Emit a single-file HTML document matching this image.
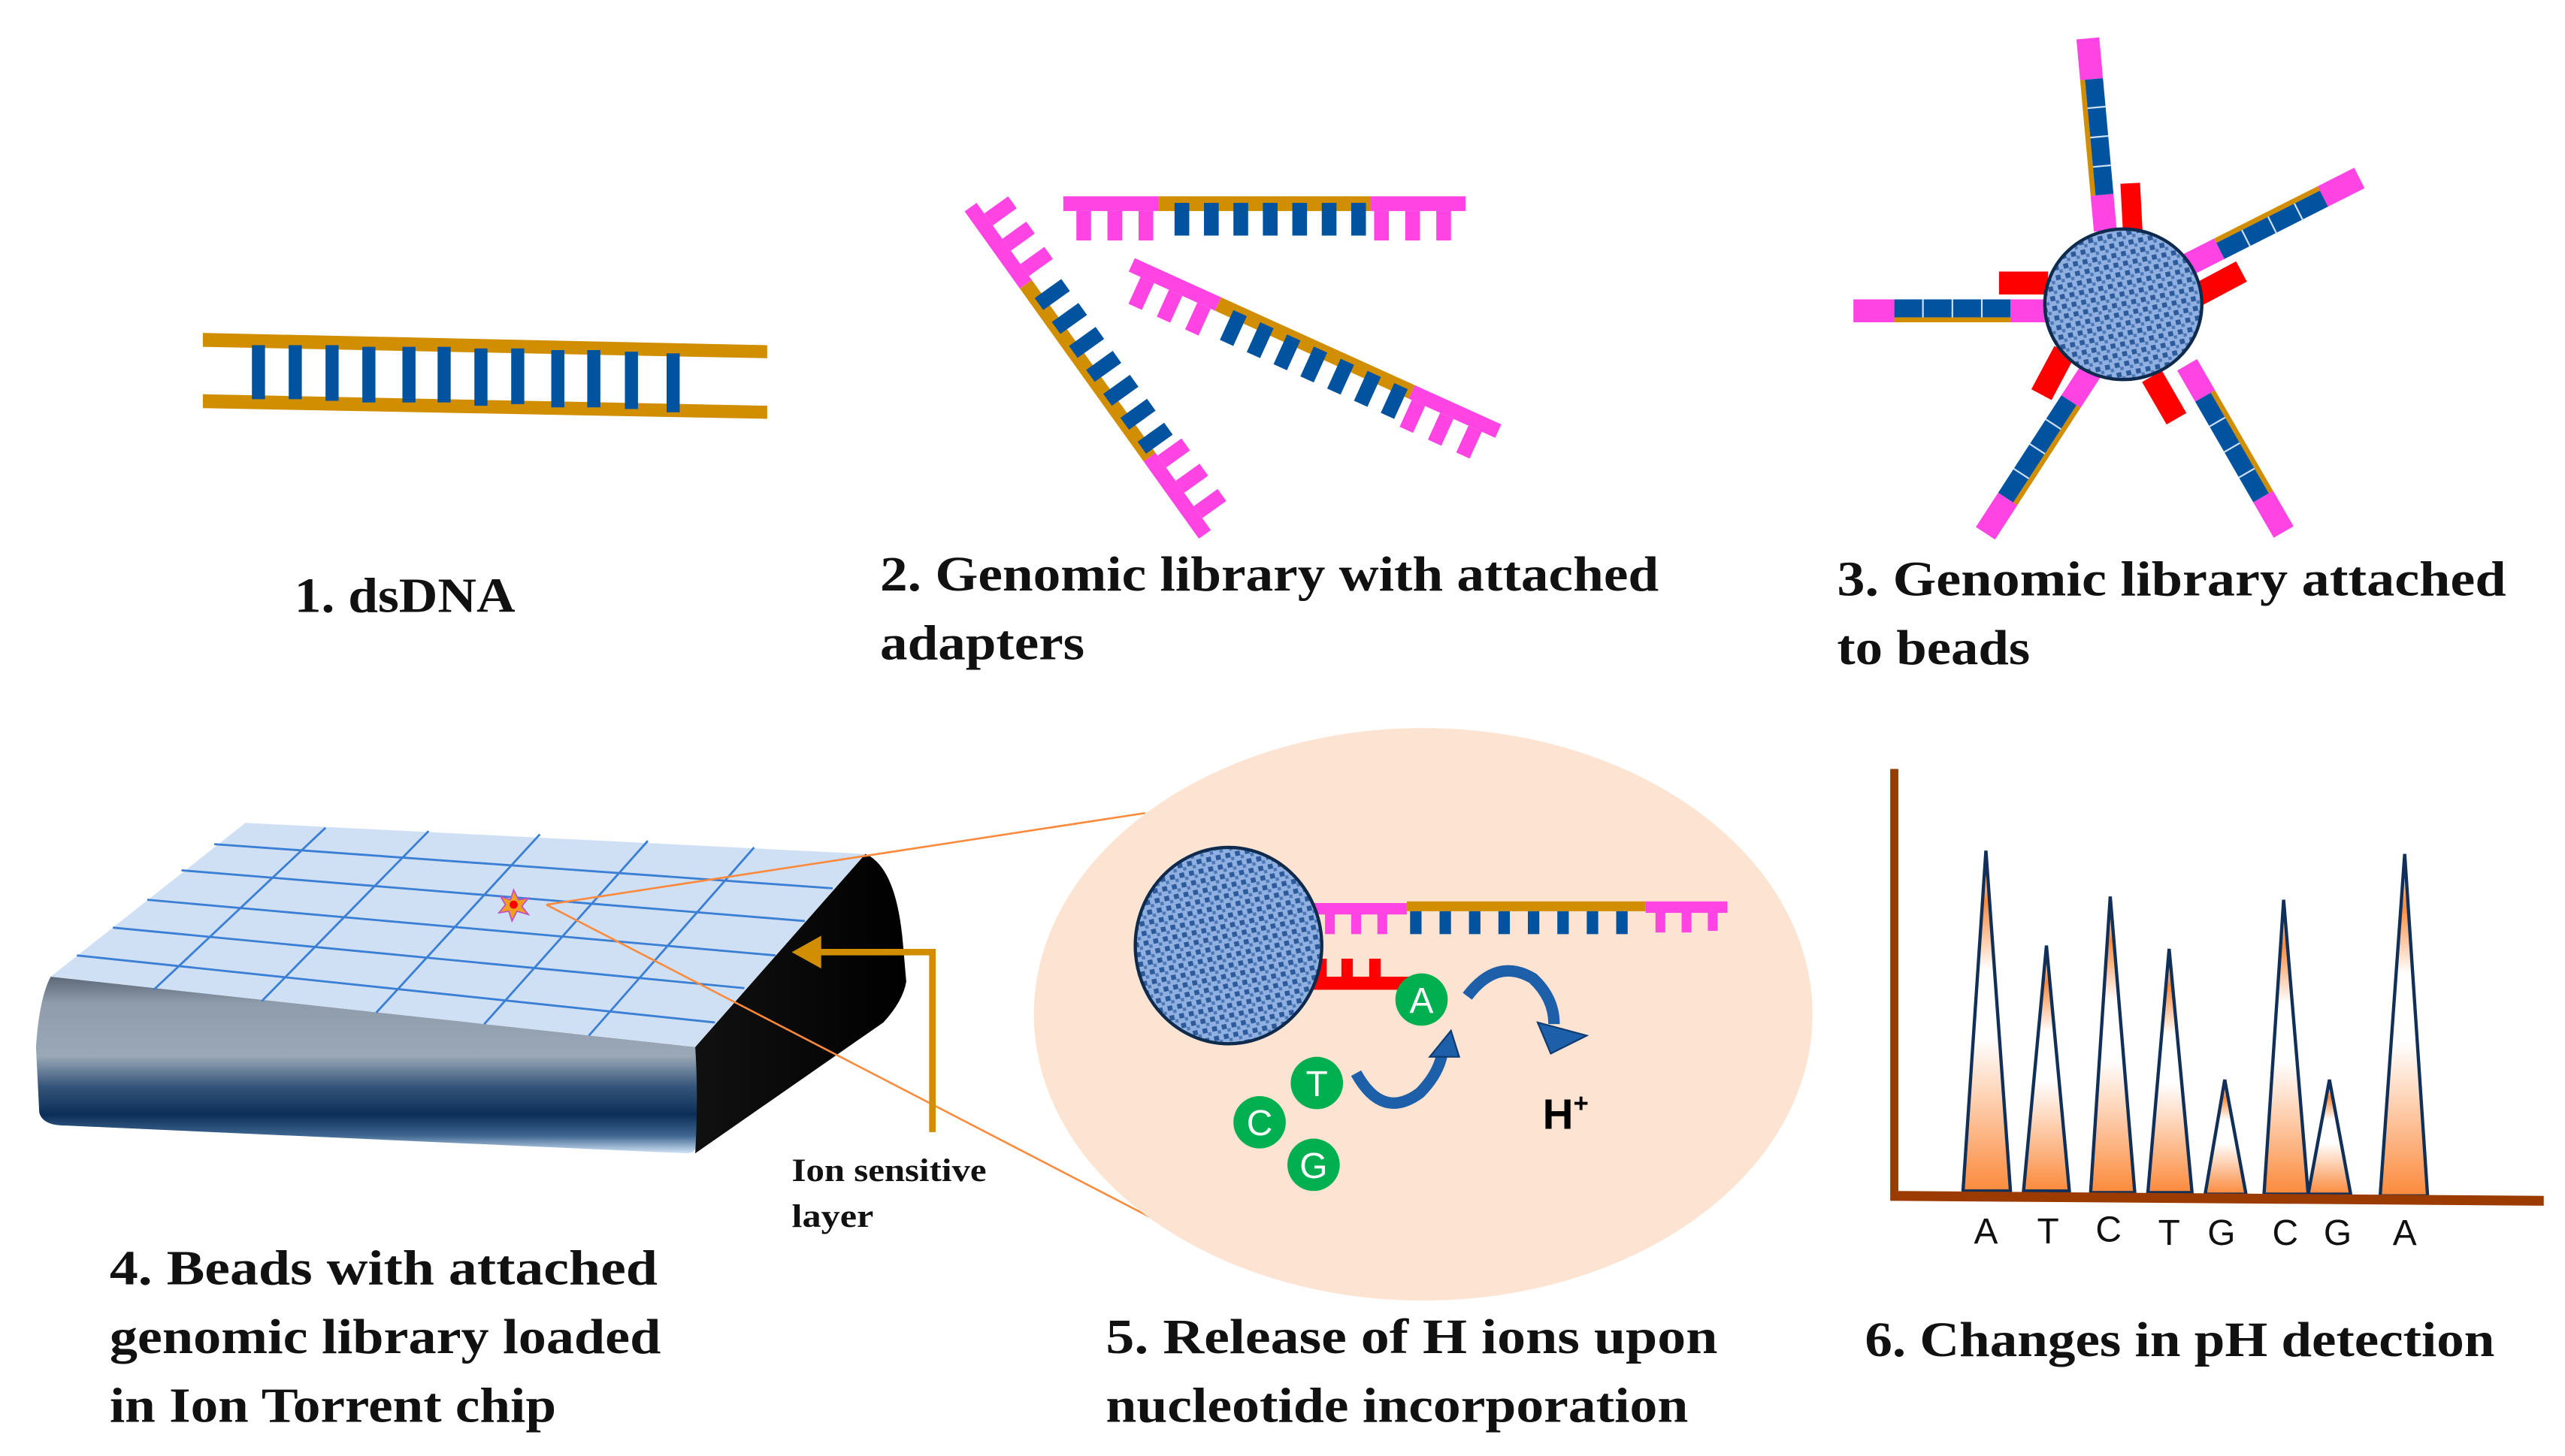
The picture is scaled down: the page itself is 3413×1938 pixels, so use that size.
<!DOCTYPE html>
<html><head><meta charset="utf-8"><style>
html,body{margin:0;padding:0;background:#fff;}
svg{display:block;}
.lb{font-family:"Liberation Serif",serif;font-weight:bold;font-size:30px;fill:#111;}
.sm{font-family:"Liberation Serif",serif;font-weight:bold;font-size:20px;fill:#111;}
.nt{font-family:"Liberation Sans",sans-serif;font-size:22px;fill:#111;}
</style></head><body>
<svg width="3413" height="1938" viewBox="0 0 1568 890" preserveAspectRatio="none" xmlns="http://www.w3.org/2000/svg">
<defs>
<pattern id="tex" width="6" height="6" patternUnits="userSpaceOnUse" patternTransform="rotate(-12)">
<rect width="6" height="6" fill="#8fb0e0"/>
<rect width="3" height="3" fill="#2d5a9a"/>
<rect x="3" y="3" width="2" height="2" fill="#4c78b8"/>
</pattern>
<linearGradient id="front" x1="0" y1="0" x2="0" y2="1">
<stop offset="0" stop-color="#5c6778"/>
<stop offset="0.15" stop-color="#8f9cab"/>
<stop offset="0.45" stop-color="#9aa8b7"/>
<stop offset="0.62" stop-color="#36557a"/>
<stop offset="0.78" stop-color="#0b2e58"/>
<stop offset="0.9" stop-color="#3e6690"/>
<stop offset="1" stop-color="#d2e4f7"/>
</linearGradient>
<linearGradient id="side" x1="0" y1="0" x2="1" y2="0">
<stop offset="0" stop-color="#111"/>
<stop offset="1" stop-color="#000"/>
</linearGradient>
<linearGradient id="pk" x1="0" y1="0" x2="0" y2="1">
<stop offset="0" stop-color="#fff"/>
<stop offset="0.15" stop-color="#fb8a3c"/>
<stop offset="0.35" stop-color="#fff"/>
<stop offset="0.55" stop-color="#fff"/>
<stop offset="1" stop-color="#fb8a3c"/>
</linearGradient>
<g id="strand">
<rect x="0" y="-9" width="58" height="9" fill="#ff44e3"/>
<rect x="58" y="-9" width="130" height="9" fill="#d08e00"/>
<rect x="188" y="-9" width="58" height="9" fill="#ff44e3"/>
<g fill="#ff44e3"><rect x="8" y="0" width="9" height="18"/><rect x="27" y="0" width="9" height="18"/><rect x="46" y="0" width="9" height="18"/>
<rect x="190" y="0" width="9" height="18"/><rect x="209" y="0" width="9" height="18"/><rect x="228" y="0" width="9" height="18"/></g>
<g fill="#02539f"><rect x="68" y="-5" width="9" height="20"/><rect x="86" y="-5" width="9" height="20"/><rect x="104" y="-5" width="9" height="20"/><rect x="122" y="-5" width="9" height="20"/><rect x="140" y="-5" width="9" height="20"/><rect x="158" y="-5" width="9" height="20"/><rect x="176" y="-5" width="9" height="20"/></g>
</g>
<g id="arm">
<rect x="0" y="-7" width="22" height="14" fill="#ff44e3"/>
<rect x="22" y="-7" width="71" height="3" fill="#d08e00"/>
<rect x="22" y="-4" width="71" height="11" fill="#02539f"/>
<g fill="#cfe0f5"><rect x="39" y="-4" width="1" height="11"/><rect x="57" y="-4" width="1" height="11"/><rect x="75" y="-4" width="1" height="11"/></g>
<rect x="93" y="-7" width="25" height="14" fill="#ff44e3"/>
</g>
</defs>

<!-- Panel 1 -->
<polygon points="124,203.5 469,211 469,219 124,212" fill="#d08e00"/>
<polygon points="124,241 469,248 469,256 124,249.5" fill="#d08e00"/>
<g fill="#02539f">
<rect x="154" y="211" width="8" height="33"/><rect x="176.5" y="211" width="8" height="33"/><rect x="199" y="211" width="8" height="34"/><rect x="221.5" y="212" width="8" height="34"/><rect x="246" y="212" width="8" height="34"/><rect x="267.5" y="212" width="8" height="34"/><rect x="290" y="213" width="8" height="35"/><rect x="312.5" y="213" width="8" height="34"/><rect x="337" y="214" width="8" height="35"/><rect x="359" y="214" width="8" height="35"/><rect x="382" y="215" width="8" height="35"/><rect x="407.5" y="216" width="8" height="36"/>
</g>
<text class="lb" x="180" y="374" textLength="135" lengthAdjust="spacingAndGlyphs">1. dsDNA</text>

<!-- Panel 2 -->
<use href="#strand" transform="translate(650,129)"/>
<use href="#strand" transform="translate(690,166) rotate(24.4)"/>
<use href="#strand" transform="translate(597,124) rotate(54.4) scale(1,-1)"/>
<text class="lb" x="538" y="361" textLength="476" lengthAdjust="spacingAndGlyphs">2. Genomic library with attached</text>
<text class="lb" x="538" y="403" textLength="125" lengthAdjust="spacingAndGlyphs">adapters</text>

<!-- Panel 3 -->
<use href="#arm" transform="translate(1287,141) rotate(-95.2)"/>
<use href="#arm" transform="translate(1337,162) rotate(-26.8)"/>
<use href="#arm" transform="translate(1251,190) rotate(180)"/>
<use href="#arm" transform="translate(1278,227) rotate(123)"/>
<use href="#arm" transform="translate(1337,223) rotate(60)"/>
<g fill="#ff0000">
<rect x="-6" y="-15" width="12" height="30" transform="translate(1303,127) rotate(-3)"/>
<rect x="-15" y="-7" width="30" height="14" transform="translate(1237,173)"/>
<rect x="-15" y="-7" width="30" height="14" transform="translate(1357,173) rotate(-28)"/>
<rect x="-15" y="-7" width="30" height="14" transform="translate(1255,228) rotate(-62)"/>
<rect x="-15" y="-7" width="30" height="14" transform="translate(1323,243) rotate(60)"/>
</g>
<ellipse cx="1298" cy="186" rx="48" ry="46" fill="url(#tex)" stroke="#0e2b4d" stroke-width="2"/>
<text class="lb" x="1123" y="364" textLength="409" lengthAdjust="spacingAndGlyphs">3. Genomic library attached</text>
<text class="lb" x="1123" y="406" textLength="118" lengthAdjust="spacingAndGlyphs">to beads</text>

<!-- Panel 4 chip -->
<path d="M31,597 Q24,610 22,640 L24,680 Q26,688 40,688 L420,705 Q428,705 427,690 L426,660 Q426,642 425,640 Z" fill="url(#front)"/>
<path d="M425,640 L529,522 Q548,530 552,577 L554,600 Q552,612 540,625 L425,705 Q427,670 425,640 Z" fill="url(#side)"/>
<polygon points="150,503 529,522 425,640 31,597" fill="#cfe0f5"/>
<g stroke="#3b7fd4" stroke-width="1.3">
<line x1="131" y1="516" x2="509" y2="543"/>
<line x1="111" y1="532" x2="492" y2="563"/>
<line x1="90" y1="550" x2="474" y2="584"/>
<line x1="69" y1="567" x2="455" y2="604"/>
<line x1="47" y1="584" x2="437" y2="625"/>
<line x1="199" y1="506" x2="94" y2="605"/>
<line x1="262" y1="508" x2="160" y2="612"/>
<line x1="330" y1="510" x2="230" y2="619"/>
<line x1="396" y1="514" x2="296" y2="626"/>
<line x1="461" y1="518" x2="360" y2="633"/>
</g>
<polygon points="314,544 317,550 323,549 319,554 323,559 316,557 313,563 311,557 305,558 309,553 306,548 312,550" fill="#f0a020" stroke="#c050c0" stroke-width="0.8"/>
<circle cx="314" cy="553" r="2.5" fill="#ff0000"/>
<line x1="334" y1="553" x2="700" y2="497" stroke="#fb8a3c" stroke-width="1.2"/>
<line x1="334" y1="553" x2="705" y2="745" stroke="#fb8a3c" stroke-width="1.2"/>
<polyline points="570,692 570,582 500,582" fill="none" stroke="#d08e00" stroke-width="4"/>
<polygon points="484,582 502,572 502,592" fill="#d08e00"/>
<text class="sm" x="484" y="722" textLength="119" lengthAdjust="spacingAndGlyphs">Ion sensitive</text>
<text class="sm" x="484" y="750" textLength="50" lengthAdjust="spacingAndGlyphs">layer</text>
<text class="lb" x="67" y="785" textLength="335" lengthAdjust="spacingAndGlyphs">4. Beads with attached</text>
<text class="lb" x="67" y="827" textLength="337" lengthAdjust="spacingAndGlyphs">genomic library loaded</text>
<text class="lb" x="67" y="869" textLength="273" lengthAdjust="spacingAndGlyphs">in Ion Torrent chip</text>

<!-- Panel 5 -->
<ellipse cx="870" cy="620" rx="238" ry="175" fill="#fde4d2"/>
<rect x="802" y="552" width="58" height="7" fill="#ff44e3"/>
<rect x="860" y="551" width="146" height="6" fill="#d08e00"/>
<rect x="1006" y="551" width="50" height="7" fill="#ff44e3"/>
<g fill="#ff44e3"><rect x="810" y="558" width="6" height="13"/><rect x="826" y="558" width="6" height="13"/><rect x="842" y="558" width="6" height="13"/><rect x="1012" y="557" width="6" height="13"/><rect x="1028" y="557" width="6" height="13"/><rect x="1044" y="557" width="6" height="12"/></g>
<g fill="#02539f"><rect x="862" y="557" width="7" height="14"/><rect x="880" y="557" width="7" height="14"/><rect x="898" y="557" width="7" height="14"/><rect x="916" y="557" width="7" height="14"/><rect x="934" y="557" width="7" height="14"/><rect x="952" y="557" width="7" height="14"/><rect x="970" y="557" width="7" height="14"/><rect x="988" y="557" width="7" height="14"/></g>
<rect x="797" y="597" width="66" height="8" fill="#ff0000"/>
<g fill="#ff0000"><rect x="804" y="586" width="7" height="12"/><rect x="820" y="586" width="7" height="12"/><rect x="837" y="586" width="7" height="12"/></g>
<ellipse cx="751" cy="578" rx="57" ry="60" fill="url(#tex)" stroke="#0e2b4d" stroke-width="2"/>
<path d="M829,656 Q845,685 868,668 Q880,656 882,642" fill="none" stroke="#1d5fa8" stroke-width="7"/>
<polygon points="887,630 874,646 892,646" fill="#1d5fa8" stroke="#0e3b70" stroke-width="1"/>
<path d="M897,609 Q915,585 937,598 Q950,610 950,626" fill="none" stroke="#1d5fa8" stroke-width="7"/>
<polygon points="940,625 970,633 948,644" fill="#1d5fa8" stroke="#0e3b70" stroke-width="1"/>
<g font-family="Liberation Sans, sans-serif" font-size="22" fill="#fff" text-anchor="middle">
<circle cx="869" cy="611" r="16" fill="#00b050"/><text x="869" y="619">A</text>
<circle cx="805" cy="662" r="16" fill="#00b050"/><text x="805" y="670">T</text>
<circle cx="770" cy="686" r="16" fill="#00b050"/><text x="770" y="694">C</text>
<circle cx="803" cy="712" r="16" fill="#00b050"/><text x="803" y="720">G</text>
</g>
<text x="943" y="690" font-family="Liberation Sans, sans-serif" font-weight="bold" font-size="26" fill="#000">H<tspan font-size="16" dy="-10">+</tspan></text>
<text class="lb" x="676" y="827" textLength="374" lengthAdjust="spacingAndGlyphs">5. Release of H  ions upon</text>
<text class="lb" x="676" y="869" textLength="356" lengthAdjust="spacingAndGlyphs">nucleotide incorporation</text>

<!-- Panel 6 -->
<g fill="url(#pk)" stroke="#10305a" stroke-width="2">
<polygon points="1200,728 1214,520 1229,728"/>
<polygon points="1237,728 1251,578 1265,728"/>
<polygon points="1278,729 1290,548 1305,729"/>
<polygon points="1313,729 1326,580 1340,729"/>
<polygon points="1348,730 1360,660 1373,730"/>
<polygon points="1384,730 1396,550 1411,730"/>
<polygon points="1411,730 1424,660 1437,730"/>
<polygon points="1455,731 1470,522 1484,731"/>
</g>
<line x1="1158" y1="470" x2="1158" y2="734" stroke="#9c3b00" stroke-width="5"/>
<polygon points="1156,728 1555,731 1555,737 1156,734" fill="#9c3b00"/>
<g class="nt" text-anchor="middle">
<text x="1214" y="760">A</text><text x="1252" y="760">T</text><text x="1289" y="759">C</text><text x="1326" y="761">T</text><text x="1358" y="761">G</text><text x="1397" y="761">C</text><text x="1429" y="761">G</text><text x="1470" y="761">A</text>
</g>
<text class="lb" x="1140" y="829" textLength="385" lengthAdjust="spacingAndGlyphs">6. Changes in pH detection</text>
</svg>
</body></html>
